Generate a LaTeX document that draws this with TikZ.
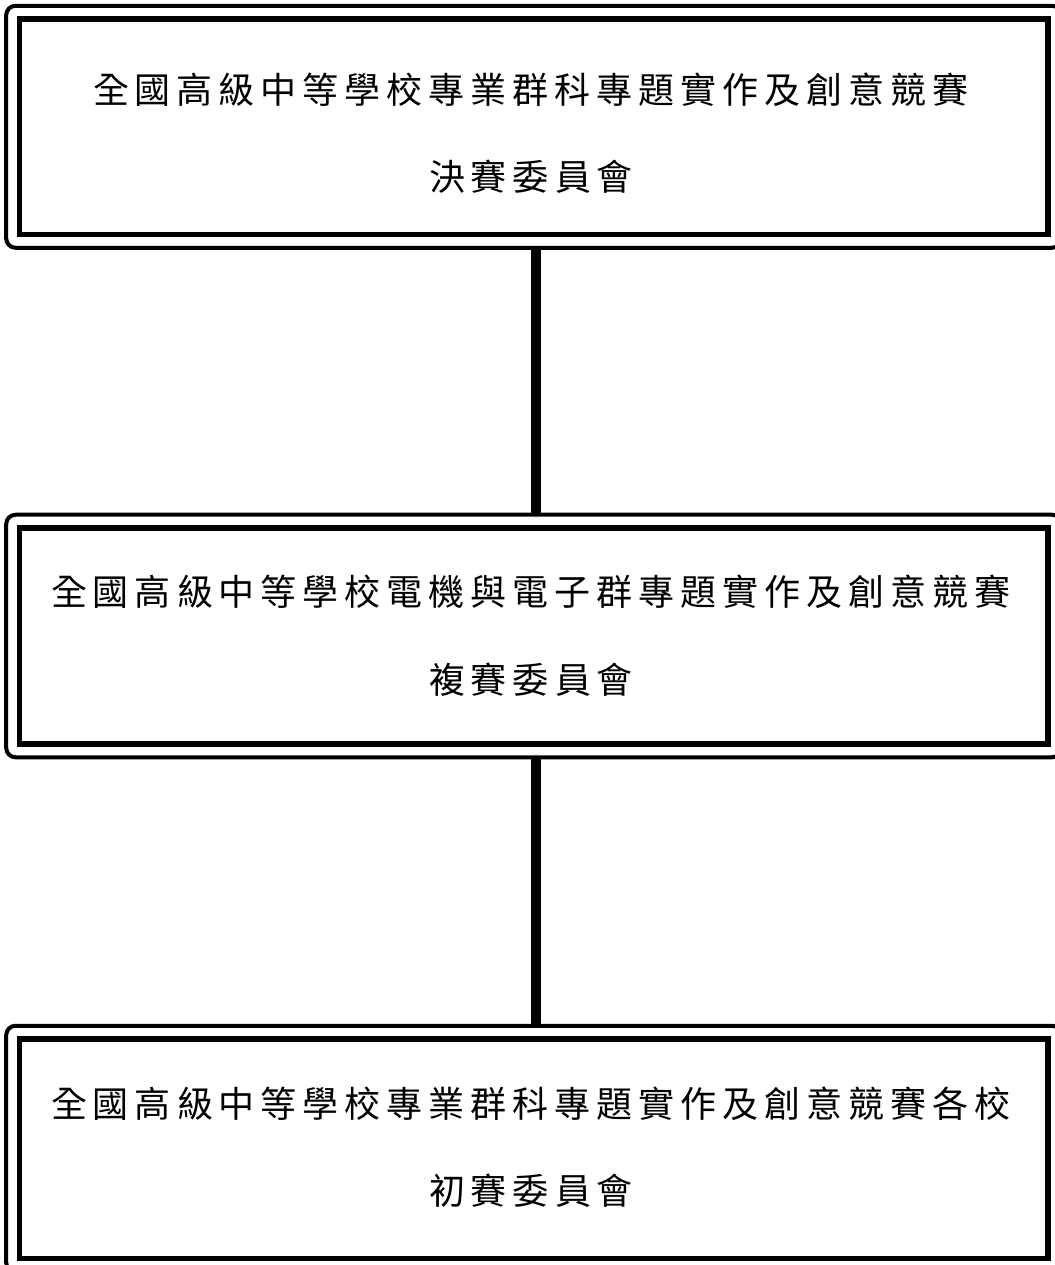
\documentclass[tikz,border=0pt]{standalone}
\usepackage{fontspec}
\newfontfamily\cjk{Noto Sans CJK TC}
\usepackage{tikz}
\usetikzlibrary{positioning,fit}

\newlength\glyphgap
\setlength\glyphgap{4.5pt}
\def\spreadtext#1{\spreadnext#1\relax\hspace{-\glyphgap}}
\def\spreadnext#1{\ifx\relax#1\else#1\hspace{\glyphgap}\expandafter\spreadnext\fi}

\begin{document}
\begin{tikzpicture}[x=0.75pt, y=-0.75pt,
        panel/.style={draw, line width=4.1pt, rectangle, minimum width=771.4pt, inner sep=0pt},
        frame/.style={draw, line width=3pt, rounded corners=7pt, inner sep=7.9pt},
        title/.style={font=\cjk\fontsize{27pt}{31pt}\selectfont, inner sep=0pt},
        link/.style={line width=8.2pt}
    ]
        \useasboundingbox (0,0) rectangle (1055,1265);

        % inner boxes
        \node [panel, minimum height=161.6pt] (final) at (533.75,126.75) {};
        \node [panel, minimum height=162pt] (semi) at (533.75,636) {};
        \node [panel, minimum height=164.6pt] (prelim) at (533.75,1148.75) {};

        % rounded outer frames
        \node [frame, fit=(final)] (finalframe) {};
        \node [frame, fit=(semi)] (semiframe) {};
        \node [frame, fit=(prelim)] (prelimframe) {};

        % texts
        \node [title] (finaltop) at (534,90) {\spreadtext{全國高級中等學校專業群科專題實作及創意競賽}};
        \node [title] (finalbot) at (534,177) {\spreadtext{決賽委員會}};
        \node [title] (semitop) at (534,592) {\spreadtext{全國高級中等學校電機與電子群專題實作及創意競賽}};
        \node [title] (semibot) at (534,680) {\spreadtext{複賽委員會}};
        \node [title] (prelimtop) at (534,1104) {\spreadtext{全國高級中等學校專業群科專題實作及創意競賽各校}};
        \node [title] (prelimbot) at (534,1191) {\spreadtext{初賽委員會}};

        \draw [link] ([xshift=1.7pt]finalframe.south) -- ([xshift=1.7pt]semiframe.north);
        \draw [link] ([xshift=1.7pt]semiframe.south) -- ([xshift=1.7pt]prelimframe.north);

    \end{tikzpicture}
\end{document}
